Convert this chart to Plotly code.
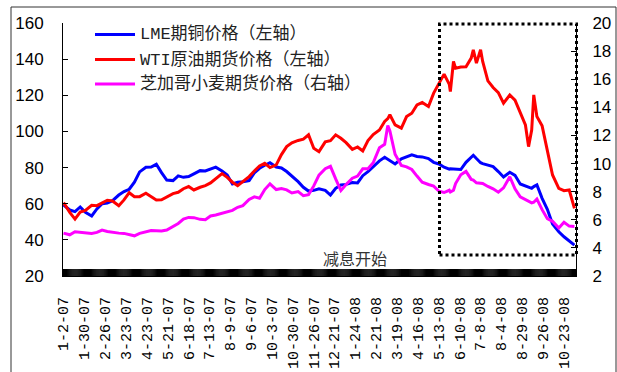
import plotly.graph_objects as go

# trading-day index of each reading
DAY = [0, 6, 11, 16, 21, 27, 32, 37, 42, 47, 53, 58, 63, 68, 73, 79, 84, 89, 94, 99,
       105, 110, 115, 120, 125, 131, 136, 141, 146, 152, 157, 162, 167, 172, 178, 183, 188, 193, 198, 204,
       209, 214, 219, 225, 230, 235, 240, 245, 251, 256, 261, 266, 271, 277, 282, 287, 292, 297, 303, 308,
       311, 313, 318, 324, 329, 334, 339, 344, 350, 355, 360, 365, 370, 371, 374, 376, 381, 386, 391, 393,
       396, 400, 402, 407, 412, 417, 422, 428, 433, 438, 443, 446, 449, 451, 454, 459, 464, 469, 475, 480,
       485, 490]

LME = [59.3, 56.5, 55.6, 58.2, 55.2, 53.2, 57.1, 60.0, 60.4, 61.7, 64.8, 66.7, 68.0, 71.9, 77.6, 80.2, 80.3, 81.8, 77.2, 73.1,
       72.8, 75.4, 74.6, 75.0, 76.5, 78.3, 78.1, 79.2, 80.2, 78.1, 75.9, 70.9, 71.9, 72.2, 72.8, 77.0, 79.6, 81.3, 82.7, 80.3,
       79.8, 77.8, 75.4, 72.2, 69.1, 67.0, 67.4, 68.3, 67.4, 64.8, 68.5, 70.4, 70.7, 71.7, 71.5, 75.5, 77.8, 80.7, 83.7, 85.7,
       84.6, 84.2, 82.0, 84.8, 86.1, 87.0, 86.1, 85.9, 85.0, 82.9, 82.0, 80.2, 79.1, 79.3, 79.2, 79.1, 78.9, 82.9, 86.1, 86.8,
       85.0, 82.7, 82.2, 81.3, 80.5, 77.8, 74.8, 77.4, 75.7, 70.9, 69.8, 69.5, 68.5, 69.5, 70.4, 63.0, 56.9, 48.8, 44.5, 41.7,
       39.2, 37.1]

WTI = [60.6, 55.2, 51.5, 55.4, 56.3, 59.1, 58.9, 60.6, 61.9, 61.5, 58.9, 62.1, 66.1, 63.9, 63.9, 65.8, 63.9, 62.1, 62.2, 63.9,
       65.6, 66.3, 68.3, 69.5, 67.6, 69.1, 70.0, 71.5, 74.1, 76.7, 74.6, 71.9, 70.0, 72.2, 75.0, 78.1, 80.9, 82.4, 80.0, 81.5,
       87.2, 91.6, 93.7, 95.0, 95.7, 98.1, 90.7, 88.8, 94.2, 94.9, 98.1, 96.2, 93.8, 90.1, 91.4, 89.2, 94.9, 98.3, 100.8, 105.5,
       107.1, 109.2, 103.6, 101.8, 108.2, 110.1, 114.7, 116.0, 113.8, 121.2, 126.7, 131.7, 126.0, 122.1, 138.7, 135.0, 135.6, 135.8, 140.6, 145.2,
       137.8, 145.2, 138.7, 128.0, 124.3, 121.5, 115.6, 120.2, 117.3, 110.5, 103.6, 91.6, 100.8, 120.2, 108.2, 103.1, 88.8, 75.9, 68.5, 67.2,
       67.6, 57.4]

WHEAT = [5.05, 4.93, 5.15, 5.10, 5.05, 5.03, 5.10, 5.27, 5.17, 5.10, 5.05, 5.03, 4.96, 4.86, 5.03, 5.15, 5.24, 5.22, 5.20, 5.27,
         5.51, 5.74, 6.05, 6.17, 6.15, 6.03, 6.01, 6.27, 6.34, 6.46, 6.55, 6.67, 6.89, 7.01, 7.44, 7.63, 7.53, 8.15, 8.56, 8.15,
         8.22, 8.13, 7.91, 8.01, 7.72, 7.79, 8.41, 9.18, 9.63, 9.80, 8.91, 8.08, 8.51, 8.96, 9.11, 9.63, 9.63, 10.06, 11.13, 11.37,
         12.70, 12.32, 10.66, 9.87, 9.77, 9.58, 9.11, 8.68, 8.51, 8.39, 8.03, 7.94, 8.10, 7.98, 8.10, 8.58, 9.20, 9.44, 8.87, 8.82,
         8.63, 8.63, 8.58, 8.37, 8.20, 7.96, 8.27, 9.06, 8.20, 7.63, 7.41, 7.32, 7.20, 7.25, 7.48, 6.72, 6.08, 5.89, 5.41, 5.82,
         5.55, 5.53]

N_DAYS = 492  # categories on the date axis (one tick mark per trading day)
TICK_DAY = list(range(0, 481, 20))
TICK_TEXT = ["1-2-07", "1-30-07", "2-26-07", "3-23-07", "4-23-07", "5-21-07", "6-18-07", "7-13-07",
             "8-9-07", "9-6-07", "10-3-07", "10-30-07", "11-26-07", "12-21-07", "1-24-08", "2-21-08",
             "3-19-08", "4-16-08", "5-13-08", "6-10-08", "7-8-08", "8-4-08", "8-29-08", "9-26-08", "10-23-08"]

NAMES = ["LME期铜价格（左轴）", "WTI原油期货价格（左轴）", "芝加哥小麦期货价格（右轴）"]
COLORS = ["#0000FF", "#FF0000", "#FF00FF"]

Y_MIN = 20
fig = go.Figure()
# category tick marks along the date axis (one per trading day), clipped to the plot area
fig.add_trace(go.Scatter(x=list(range(N_DAYS)), y=[Y_MIN] * N_DAYS, mode="markers", cliponaxis=True,
                         marker=dict(symbol="line-ns", size=10, color="black", line=dict(color="black", width=1.3)),
                         showlegend=False, hoverinfo="skip"))
fig.add_trace(go.Scatter(x=DAY, y=LME, mode="lines", line=dict(color=COLORS[0], width=3), name=NAMES[0]))
fig.add_trace(go.Scatter(x=DAY, y=WTI, mode="lines", line=dict(color=COLORS[1], width=3), name=NAMES[1]))
fig.add_trace(go.Scatter(x=DAY, y=WHEAT, mode="lines", line=dict(color=COLORS[2], width=3), name=NAMES[2], yaxis="y2"))

L, R, T, B = 63, 41, 23, 96
PW, PH = 617 - L - R, 372 - T - B


def px(xp):
    return (xp - L) / PW


def py(yp):
    return (372 - B - yp) / PH


shapes = []
annotations = []
# outer frame
shapes.append(dict(type="rect", xref="paper", yref="paper", x0=px(11), x1=px(616), y0=py(390), y1=py(7),
                   line=dict(color="#333333", width=1)))
# dotted highlight box
shapes.append(dict(type="rect", xref="paper", yref="paper", x0=px(439.5), x1=px(576.5), y0=py(255), y1=py(24),
                   line=dict(color="black", width=3, dash="dot")))
# manual legend
LEG_Y = [34.5, 59.5, 84]
for name, col, yy in zip(NAMES, COLORS, LEG_Y):
    shapes.append(dict(type="line", xref="paper", yref="paper", x0=px(95), x1=px(135), y0=py(yy), y1=py(yy),
                       line=dict(color=col, width=3)))
    annotations.append(dict(xref="paper", yref="paper", x=px(138), y=py(yy), text=name, showarrow=False,
                            xanchor="left", yanchor="middle",
                            font=dict(family="Liberation Mono, Noto Sans CJK SC", size=17, color="#222222")))
annotations.append(dict(xref="paper", yref="paper", x=px(355), y=py(258), text="减息开始", showarrow=False,
                        xanchor="center", yanchor="middle",
                        font=dict(family="Noto Sans CJK SC", size=16, color="#333333")))

XRANGE = [-0.5, N_DAYS - 0.5]
fig.update_layout(
    width=617, height=372,
    margin=dict(l=L, r=R, t=T, b=B, pad=0, autoexpand=False),
    paper_bgcolor="white", plot_bgcolor="white",
    showlegend=False,
    shapes=shapes, annotations=annotations,
    xaxis=dict(range=XRANGE, tickmode="array", tickvals=TICK_DAY, ticktext=TICK_TEXT,
               tickangle=-90, ticks="", automargin=False,
               showline=True, linecolor="black", linewidth=1, showgrid=False, zeroline=False,
               ticklabelstandoff=14,
               tickfont=dict(family="Liberation Mono", size=15, color="black")),
    yaxis=dict(range=[Y_MIN, 160], dtick=20, ticks="inside", ticklen=5, tickcolor="black", automargin=False,
               showline=True, linecolor="black", linewidth=1, showgrid=False, zeroline=False,
               ticklabelstandoff=15,
               tickfont=dict(family="Liberation Sans", size=17, color="black")),
    yaxis2=dict(range=[2, 20], dtick=2, overlaying="y", side="right", ticks="inside", ticklen=5,
                tickcolor="black", showline=True, linecolor="black", linewidth=1, showgrid=False,
                zeroline=False, ticklabelstandoff=12, automargin=False,
                tickfont=dict(family="Liberation Sans", size=17, color="black")),
)

fig.write_html("out.html", config={"displayModeBar": False, "staticPlot": True},
               post_script="document.body.style.margin='0px';document.body.style.overflow='hidden';")
